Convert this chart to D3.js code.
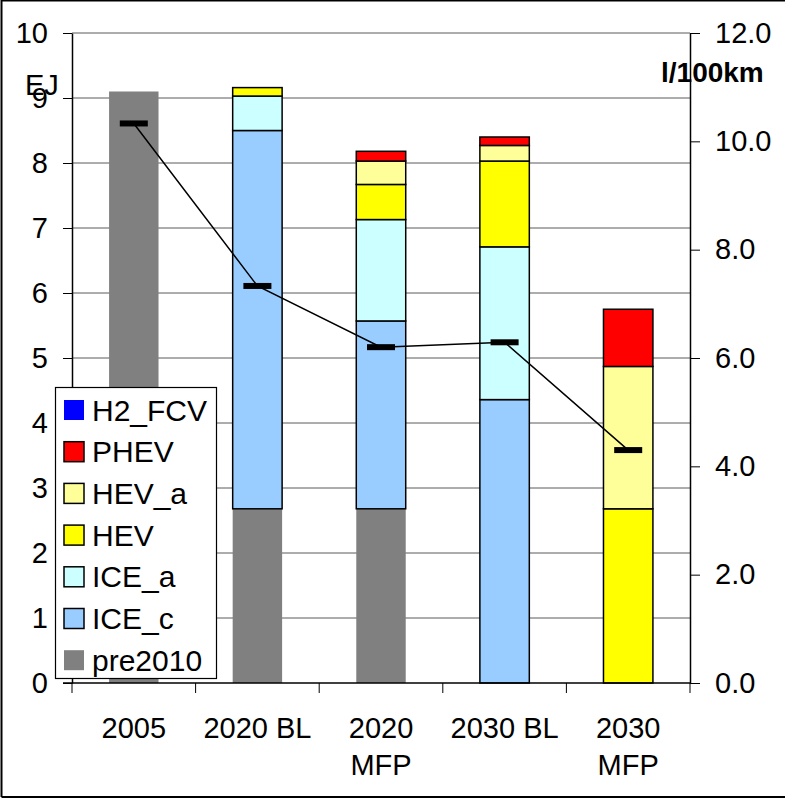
<!DOCTYPE html>
<html>
<head>
<meta charset="utf-8">
<script src="https://cdn.jsdelivr.net/npm/d3@7"></script>
<style>
  body { margin: 0; background: #fff; }
  text { font-family: "Liberation Sans", Arial, sans-serif; fill: #000; }
</style>
</head>
<body>
<svg id="chart" width="785" height="798"></svg>
<script>
// categories on the x axis (second line after the \n)
var categories = ["2005", "2020 BL", "2020\nMFP", "2030 BL", "2030\nMFP"];

// stacked series, EJ (bottom to top)
var seriesNames = ["pre2010", "ICE_c", "ICE_a", "HEV", "HEV_a", "PHEV", "H2_FCV"];
var pre2010 = [9.10, 2.68, 2.68, 0, 0];
var ICE_c   = [0, 5.82, 2.89, 4.36, 0];
var ICE_a   = [0, 0.53, 1.56, 2.35, 0];
var HEV     = [0, 0.13, 0.54, 1.32, 2.68];
var HEV_a   = [0, 0, 0.36, 0.24, 2.19];
var PHEV    = [0, 0, 0.15, 0.13, 0.88];
var H2_FCV  = [0, 0, 0, 0, 0];

// fuel use, l/100km (right axis)
var fuelUse = [10.33, 7.33, 6.20, 6.29, 4.30];

var leftTicks = [0, 1, 2, 3, 4, 5, 6, 7, 8, 9, 10];
var rightTicks = [0, 2, 4, 6, 8, 10, 12];

var colors = {
  'pre2010': '#808080',
  'ICE_c': '#99ccff',
  'ICE_a': '#ccffff',
  'HEV': '#ffff00',
  'HEV_a': '#ffff99',
  'PHEV': '#ff0000',
  'H2_FCV': '#0000ff'
};
var noStroke = { 'pre2010': true, 'H2_FCV': true };

var values = {
  'pre2010': pre2010, 'ICE_c': ICE_c, 'ICE_a': ICE_a, 'HEV': HEV,
  'HEV_a': HEV_a, 'PHEV': PHEV, 'H2_FCV': H2_FCV
};

var table = categories.map(function(c, i) {
  var row = { cat: c };
  seriesNames.forEach(function(s) { row[s] = values[s][i]; });
  return row;
});

var svg = d3.select("#chart");
var plot = { left: 72, right: 690, top: 33, bottom: 683 };

var x = d3.scaleBand().domain(categories).range([plot.left, plot.right])
  .paddingInner(0.6).paddingOuter(0.3);
var y = d3.scaleLinear().domain([0, 10]).range([plot.bottom, plot.top]);
var y2 = d3.scaleLinear().domain([0, 12]).range([plot.bottom, plot.top]);

// frame round the chart
svg.append("path")
  .attr("d", "M1.5,797 L1.5,0.5 L785,0.5 M1.5,797 L785,797")
  .attr("fill", "none").attr("stroke", "#000").attr("stroke-width", 2);

// gridlines
svg.append("g").selectAll("line")
  .data(leftTicks.slice(1))
  .enter().append("line")
  .attr("x1", plot.left).attr("x2", plot.right)
  .attr("y1", function(d) { return y(d); })
  .attr("y2", function(d) { return y(d); })
  .attr("stroke", "#5a5a5a").attr("stroke-width", 1);

// stacked bars
var stack = d3.stack().keys(seriesNames);
var layers = stack(table);

svg.append("g").selectAll("g")
  .data(layers)
  .enter().append("g")
  .attr("fill", function(d) { return colors[d.key]; })
  .each(function(layer) {
    d3.select(this).selectAll("rect")
      .data(layer.filter(function(d) { return d[1] - d[0] > 0; }))
      .enter().append("rect")
      .attr("x", function(d) { return x(d.data.cat); })
      .attr("width", x.bandwidth())
      .attr("y", function(d) { return y(d[1]); })
      .attr("height", function(d) { return y(d[0]) - y(d[1]); })
      .attr("stroke", noStroke[layer.key] ? "none" : "#000")
      .attr("stroke-width", 1.5);
  });

// axes
var yAxis = svg.append("g")
  .attr("transform", "translate(" + plot.left + ",0)")
  .call(d3.axisLeft(y).tickValues(leftTicks).tickFormat(d3.format("d"))
    .tickSize(9).tickPadding(15).tickSizeOuter(0));

var yAxis2 = svg.append("g")
  .attr("transform", "translate(" + plot.right + ",0)")
  .call(d3.axisRight(y2).tickValues(rightTicks).tickFormat(d3.format(".1f"))
    .tickSize(10).tickPadding(15).tickSizeOuter(0));

[yAxis, yAxis2].forEach(function(a) {
  a.select(".domain").attr("stroke", "#000").attr("stroke-width", 1.5);
  a.selectAll(".tick line").attr("stroke", "#000");
  a.selectAll("text").style("font-size", "29px")
    .style("font-family", '"Liberation Sans", Arial, sans-serif').attr("fill", "#000");
});

// x axis: line, ticks between categories, two-line labels
var step = x.step();
var edges = categories.map(function(c) { return x(c) - (step - x.bandwidth()) / 2; });
edges.push(plot.right);

var xAxis = svg.append("g");
xAxis.append("line")
  .attr("x1", plot.left - 9).attr("x2", plot.right)
  .attr("y1", plot.bottom).attr("y2", plot.bottom)
  .attr("stroke", "#000").attr("stroke-width", 1.5);
xAxis.selectAll("line.tick")
  .data(edges)
  .enter().append("line")
  .attr("class", "tick")
  .attr("x1", function(d) { return d; }).attr("x2", function(d) { return d; })
  .attr("y1", plot.bottom).attr("y2", plot.bottom + 10)
  .attr("stroke", "#000");

var xLabels = xAxis.selectAll("text")
  .data(categories)
  .enter().append("text")
  .attr("text-anchor", "middle")
  .style("font-size", "29px")
  .attr("transform", function(d) { return "translate(" + (x(d) + x.bandwidth() / 2) + ",738)"; });
xLabels.each(function(d) {
  var lines = d.split("\n");
  var t = d3.select(this);
  lines.forEach(function(l, i) {
    t.append("tspan").attr("x", 0).attr("y", i * 37).text(l);
  });
});

// axis titles
svg.append("text").attr("x", 25).attr("y", 95)
  .style("font-size", "29px").text("EJ");
svg.append("text").attr("x", 661).attr("y", 82)
  .style("font-size", "28px").style("font-weight", "bold").text("l/100km");

// fuel-use line with dash markers
var line = d3.line()
  .x(function(d, i) { return x(categories[i]) + x.bandwidth() / 2; })
  .y(function(d) { return y2(d); });

svg.append("path")
  .datum(fuelUse)
  .attr("d", line)
  .attr("fill", "none").attr("stroke", "#000").attr("stroke-width", 1.5);

svg.append("g").selectAll("rect")
  .data(fuelUse)
  .enter().append("rect")
  .attr("x", function(d, i) { return x(categories[i]) + x.bandwidth() / 2 - 14; })
  .attr("y", function(d) { return y2(d) - 3; })
  .attr("width", 28).attr("height", 6)
  .attr("fill", "#000");

// legend
var legendOrder = seriesNames.slice().reverse();
var legend = svg.append("g");
legend.append("rect")
  .attr("x", 55.5).attr("y", 387.5).attr("width", 161).attr("height", 291)
  .attr("fill", "#fff").attr("stroke", "#000").attr("stroke-width", 1.2);

var items = legend.selectAll("g.item")
  .data(legendOrder)
  .enter().append("g")
  .attr("class", "item")
  .attr("transform", function(d, i) { return "translate(0," + (410 + i * 41.7) + ")"; });

items.append("rect")
  .attr("x", 64).attr("y", -10).attr("width", 20).attr("height", 20)
  .attr("fill", function(d) { return colors[d]; })
  .attr("stroke", function(d) { return noStroke[d] ? "none" : "#000"; })
  .attr("stroke-width", 1.5);

items.append("text")
  .attr("x", 92).attr("y", 10.5)
  .style("font-size", "30px")
  .text(function(d) { return d; });
</script>
</body>
</html>
